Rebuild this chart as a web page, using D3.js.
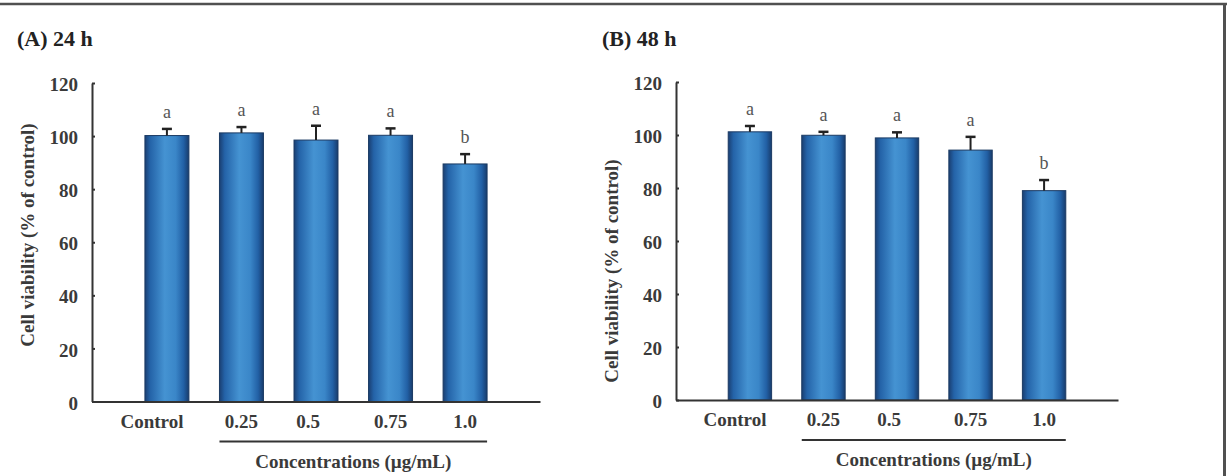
<!DOCTYPE html>
<html>
<head>
<meta charset="utf-8">
<script src="https://cdn.jsdelivr.net/npm/d3@7"></script>
<style>
  body { margin: 0; background: #fff; }
  svg { display: block; font-family: "Liberation Serif", "Times New Roman", serif; }
  .tick text { font-family: "Liberation Serif", "Times New Roman", serif; font-size: 19px; font-weight: bold; fill: #3a3a3a; }
</style>
</head>
<body>
<svg id="chart" width="1227" height="476"></svg>
<script>
// Data
const categories = ['Control', '0.25', '0.5', '0.75', '1.0']
const yTicks = [0, 20, 40, 60, 80, 100, 120]

const means24 = [100.2, 101.2, 98.5, 100.3, 89.5]
const errors24 = [2.5, 2.2, 5.4, 2.6, 3.7]
const letters24 = ['a', 'a', 'a', 'a', 'b']

const means48 = [101.2, 99.9, 98.9, 94.3, 79]
const errors48 = [2.2, 1.3, 2.1, 5, 4]
const letters48 = ['a', 'a', 'a', 'a', 'b']

const svg = d3.select('#chart')

// bar gradient
const grad = svg.append('defs').append('linearGradient')
  .attr('id', 'barGrad')
  .attr('x1', '0%').attr('x2', '100%').attr('y1', '0%').attr('y2', '0%')
grad.selectAll('stop')
  .data([
    ['0%', '#1a3f72'], ['12%', '#2463a8'], ['45%', '#4593d2'],
    ['70%', '#3a86c8'], ['88%', '#2260a5'], ['100%', '#183c6c']
  ])
  .enter().append('stop')
  .attr('offset', d => d[0])
  .attr('stop-color', d => d[1])

// frame (top and right edges only)
svg.append('line')
  .attr('x1', 0).attr('x2', 1227).attr('y1', 4).attr('y2', 4)
  .attr('stroke', '#505050').attr('stroke-width', 2.5)
svg.append('line')
  .attr('x1', 1224.5).attr('x2', 1224.5).attr('y1', 3).attr('y2', 476)
  .attr('stroke', '#505050').attr('stroke-width', 3)

const drawPanel = (opt) => {
  const { title, means, errors, letters, left, right, bottom, top, titleX, yTitleY } = opt
  const g = svg.append('g')

  const x = d3.scaleBand()
    .domain(categories)
    .range([left, right])
    .paddingInner(0.41)
    .paddingOuter(0.71)

  const y = d3.scaleLinear()
    .domain([0, 120])
    .range([bottom, top])

  const data = categories.map((c, i) => ({ cat: c, mean: means[i], err: errors[i], letter: letters[i] }))

  // bars
  g.selectAll('rect.bar')
    .data(data)
    .enter().append('rect')
    .attr('class', 'bar')
    .attr('x', d => x(d.cat))
    .attr('y', d => y(d.mean))
    .attr('width', x.bandwidth())
    .attr('height', d => y(0) - y(d.mean))
    .attr('fill', 'url(#barGrad)')
    .attr('stroke', '#1b3a63')
    .attr('stroke-width', 1)

  // error bars
  const cx = d => x(d.cat) + x.bandwidth() / 2
  g.selectAll('line.err')
    .data(data)
    .enter().append('line')
    .attr('x1', cx).attr('x2', cx)
    .attr('y1', d => y(d.mean)).attr('y2', d => y(d.mean + d.err))
    .attr('stroke', '#222').attr('stroke-width', 2)
  g.selectAll('line.cap')
    .data(data)
    .enter().append('line')
    .attr('x1', d => cx(d) - 5).attr('x2', d => cx(d) + 5)
    .attr('y1', d => y(d.mean + d.err)).attr('y2', d => y(d.mean + d.err))
    .attr('stroke', '#222').attr('stroke-width', 2.5)

  // significance letters
  g.selectAll('text.sig')
    .data(data)
    .enter().append('text')
    .attr('x', cx)
    .attr('y', d => y(d.mean + d.err) - 11)
    .attr('text-anchor', 'middle')
    .attr('font-size', 18)
    .attr('fill', '#555')
    .text(d => d.letter)

  // y axis
  const yAxis = g.append('g')
    .attr('transform', `translate(${left},0)`)
    .call(d3.axisLeft(y).tickValues(yTicks).tickSize(-3).tickSizeOuter(0).tickPadding(14))
  yAxis.attr('font-family', null)
  yAxis.selectAll('path, line').attr('stroke', '#333').attr('stroke-width', 2)
  yAxis.selectAll('text').attr('dy', '0.4em')

  // x axis
  const xAxis = g.append('g')
    .attr('transform', `translate(0,${bottom})`)
    .call(d3.axisBottom(x).tickSize(0).tickSizeOuter(0).tickPadding(13))
  xAxis.attr('font-family', null)
  xAxis.select('.domain').attr('stroke', '#333').attr('stroke-width', 2)
  xAxis.selectAll('text')
    .attr('dx', d => d === 'Control' ? -15 : (d === '0.5' ? -8 : 0))

  // underline for the concentration group
  const ux1 = x(categories[1])
  const ux2 = x(categories[categories.length - 1]) + x.bandwidth()
  g.append('line')
    .attr('x1', ux1).attr('x2', ux2)
    .attr('y1', bottom + 40).attr('y2', bottom + 40)
    .attr('stroke', '#333').attr('stroke-width', 2)

  g.append('text')
    .attr('x', (ux1 + ux2) / 2)
    .attr('y', bottom + 66)
    .attr('text-anchor', 'middle')
    .attr('font-size', 19)
    .attr('font-weight', 'bold')
    .attr('fill', '#3a3a3a')
    .text('Concentrations (\u00b5g/mL)')

  // y axis title
  g.append('text')
    .attr('transform', `translate(${left - 65},${yTitleY}) rotate(-90)`)
    .attr('text-anchor', 'middle')
    .attr('dy', '0.35em')
    .attr('font-size', 19)
    .attr('font-weight', 'bold')
    .attr('fill', '#3a3a3a')
    .text('Cell viability (% of control)')

  // panel title
  g.append('text')
    .attr('x', titleX)
    .attr('y', 46)
    .attr('font-size', 22)
    .attr('font-weight', 'bold')
    .attr('fill', '#222')
    .text(title)
}

drawPanel({
  title: '(A) 24 h', means: means24, errors: errors24, letters: letters24,
  left: 92, right: 540, bottom: 401.5, top: 83, titleX: 17, yTitleY: 235
})

drawPanel({
  title: '(B) 48 h', means: means48, errors: errors48, letters: letters48,
  left: 676, right: 1118, bottom: 400, top: 82, titleX: 602, yTitleY: 271
})
</script>
</body>
</html>
